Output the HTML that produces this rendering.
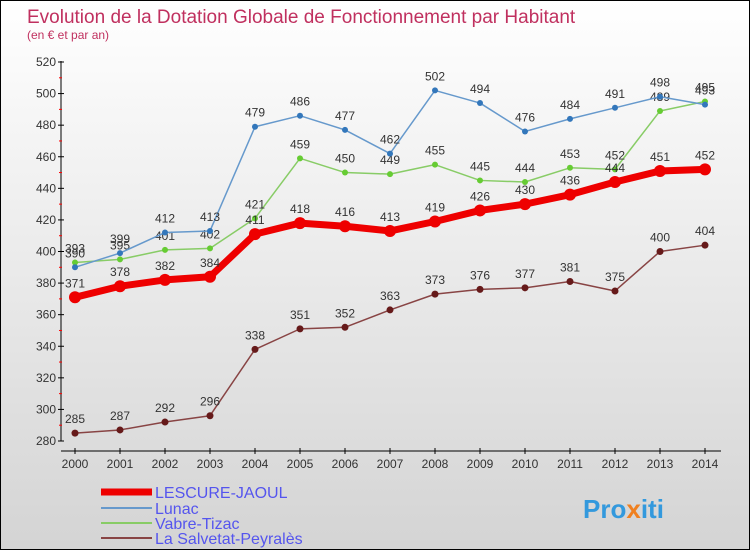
<!DOCTYPE html>
<html><head><meta charset="utf-8"><style>
html,body{margin:0;padding:0}
body{width:750px;height:550px;overflow:hidden;font-family:"Liberation Sans",sans-serif}
#wrap{position:absolute;left:0;top:0;width:748px;height:548px;border:1px solid #000;background:linear-gradient(#ffffff,#d4d4d4)}
</style></head><body>
<div id="wrap">
<svg id="chart" width="748" height="548" xmlns="http://www.w3.org/2000/svg">
<text x="26" y="22" font-size="19" fill="#c0305f">Evolution de la Dotation Globale de Fonctionnement par Habitant</text>
<text x="26" y="38" font-size="12" fill="#c0305f">(en € et par an)</text>
<g id="axes"></g><g id="series"></g><g id="legend"></g>
<text x="582" y="517" font-size="26" font-weight="bold" fill="#3399dd">Pro<tspan fill="#f08020">x</tspan>iti</text>
</svg></div>
<script>
const years=[2000,2001,2002,2003,2004,2005,2006,2007,2008,2009,2010,2011,2012,2013,2014];
const yTicks=[280,300,320,340,360,380,400,420,440,460,480,500,520];
const lescure=[371,378,382,384,411,418,416,413,419,426,430,436,444,451,452];
const lunac=[390,399,412,413,479,486,477,462,502,494,476,484,491,498,493];
const vabre=[393,395,401,402,421,459,450,449,455,445,444,453,452,489,495];
const salvetat=[285,287,292,296,338,351,352,363,373,376,377,381,375,400,404];
const NS="http://www.w3.org/2000/svg";
const sx=i=>74+45*i;
const sy=v=>440-(v-280)*(379/240);
function mk(t,a,p){const e=document.createElementNS(NS,t);for(const k in a)e.setAttribute(k,a[k]);p.appendChild(e);return e;}
const ax=document.getElementById('axes');
let yl=mk('line',{x1:60,y1:60,x2:60,y2:440,stroke:'#000'},ax);


let xl=mk('line',{x1:60,y1:450,x2:720,y2:450,stroke:'#000'},ax);


yTicks.forEach((v,i)=>{
 mk('line',{x1:57,y1:sy(v),x2:63,y2:sy(v),stroke:'#000'},ax);
 if(i<yTicks.length-1)mk('line',{x1:58,y1:sy(v+10),x2:61,y2:sy(v+10),stroke:'#f00'},ax);
 const t=mk('text',{x:55,y:sy(v)+4,'font-size':12,fill:'#333','text-anchor':'end'},ax);
 t.textContent=v;
 
 
});
years.forEach((y,i)=>{
 mk('line',{x1:sx(i),y1:447,x2:sx(i),y2:453,stroke:'#000'},ax);
 const t=mk('text',{x:sx(i),y:467,'font-size':12,fill:'#333','text-anchor':'middle'},ax);
 t.textContent=y;
 
 
});
const sg=document.getElementById('series');
function draw(data,color,w,r,name,dot){
 const g=mk('g',{},sg);
 
 
 const l=mk('polyline',{points:data.map((v,i)=>sx(i)+','+sy(v)).join(' '),fill:'none',stroke:color,'stroke-width':w,'stroke-linejoin':'round'},g);
 
 
 data.forEach((v,i)=>{
  const c=mk('circle',{cx:sx(i),cy:sy(v),r:r,fill:dot},g);
  
  
  const t=mk('text',{x:sx(i),y:sy(v)-10,'font-size':12,fill:'#333','text-anchor':'middle'},g);
  t.textContent=v;
  
  
 });
}
draw(salvetat,'#884444',1.5,3.5,'la-salvetat-peyrales','#661a1a');
draw(vabre,'#88cc66',1.5,3,'vabre-tizac','#66cc33');
draw(lunac,'#6699cc',1.5,3,'lunac','#3377bb');
draw(lescure,'#ee0000',7,6,'lescure-jaoul','#ee0000');
const lg=document.getElementById('legend');
const leg=[['LESCURE-JAOUL','#ee0000',7,491],['Lunac','#6699cc',2,507],['Vabre-Tizac','#88cc66',2,522],['La Salvetat-Peyralès','#884444',2,537]];
leg.forEach(e=>{
 const g=mk('g',{},lg);
 
 
 mk('line',{x1:100,y1:e[3],x2:151,y2:e[3],stroke:e[1],'stroke-width':e[2]},g);
 const t=mk('text',{x:154,y:e[3]+6,'font-size':16,fill:'#5555ee'},g);
 t.textContent=e[0];
});
</script>
</body></html>
